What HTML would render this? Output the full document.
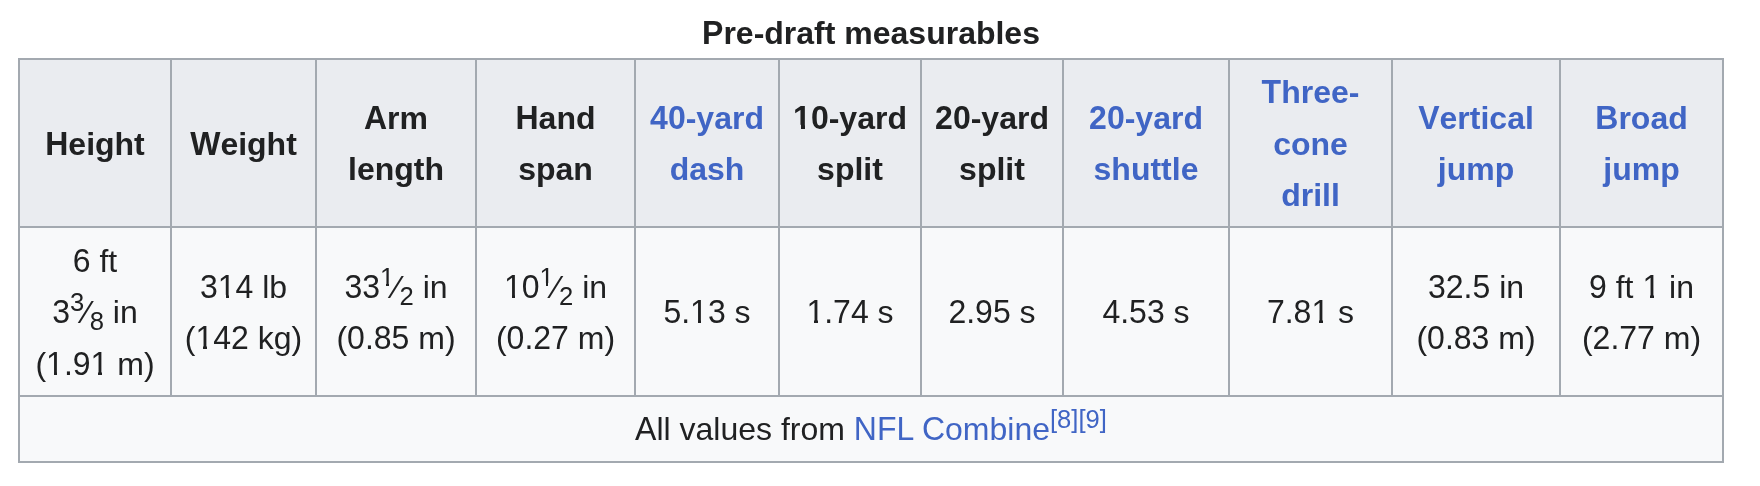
<!DOCTYPE html>
<html><head><meta charset="utf-8"><title>Pre-draft measurables</title>
<style>
html,body{margin:0;padding:0;background:#fff;}
body{font-family:"Liberation Sans",sans-serif;color:#202122;font-size:32px;line-height:51.2px;}
.wrap{position:absolute;left:18px;top:7px;will-change:transform;}
table{border-collapse:separate;border-spacing:0;table-layout:fixed;width:1706px;
  border-left:2px solid #a3a9b0;border-top:2px solid #a3a9b0;background:#f8f9fa;color:#202122;}
caption{font-weight:bold;text-align:center;padding:0;line-height:51px;position:relative;top:1px;}
th,td{box-sizing:border-box;border-right:2px solid #a3a9b0;border-bottom:2px solid #a3a9b0;
  padding:6.4px 12.8px;text-align:center;vertical-align:middle;}
th{background:#eaecf0;font-weight:bold;}
tr.h th{height:168px;padding-top:7.4px;padding-bottom:5.4px;}
tr.d td{height:169px;padding-top:7.6px;padding-bottom:5.2px;}
tr.f td{height:66px;}
a{color:#4065c5;text-decoration:none;}
.frac{white-space:nowrap;}
.frac .num,.frac .den{font-size:80%;line-height:0;}
.frac .num{vertical-align:super;}
.frac .den{vertical-align:sub;}
.o{position:relative;}
.o::before,.o::after{content:"";position:absolute;bottom:0.19em;height:0.125em;background:#f8f9fa;}
.o::before{left:0.035em;width:0.2125em;}
.o::after{left:0.35em;width:0.205em;}
th .o::before,th .o::after{background:#eaecf0;bottom:0.19em;height:0.15em;}
th .o::before{left:0.02em;width:0.213em;}
th .o::after{left:0.371em;width:0.18em;}
.c{display:inline-block;transform:scaleY(1.04);transform-origin:0 36.6px;}
sup.ref{font-size:80%;line-height:1;vertical-align:super;}
</style></head><body>
<div class="wrap">
<table>
<caption><span class="c">P</span>re-draft measurables</caption>
<colgroup>
<col style="width:152px"><col style="width:145px"><col style="width:160px"><col style="width:159px">
<col style="width:144px"><col style="width:142px"><col style="width:142px"><col style="width:166px">
<col style="width:163px"><col style="width:168px"><col style="width:163px">
</colgroup>
<tr class="h">
<th><span class="c">H</span>eight</th><th><span class="c">W</span>eight</th><th><span class="c">A</span>rm<br>length</th><th><span class="c">H</span>and<br>span</th>
<th><a><span class="c">40</span>-yard<br>dash</a></th><th><span class="c"><span class="o">1</span>0</span>-yard<br>split</th><th><span class="c">20</span>-yard<br>split</th>
<th><a><span class="c">20</span>-yard<br>shuttle</a></th><th><a><span class="c">T</span>hree-<br>cone<br>drill</a></th>
<th><a><span class="c">V</span>ertical<br>jump</a></th><th><a><span class="c">B</span>road<br>jump</a></th>
</tr>
<tr class="d">
<td><span class="c">6</span>&nbsp;ft<br><span class="frac"><span class="c">3</span><span class="num">3</span>&frasl;<span class="den">8</span></span>&nbsp;in<br>(<span class="c"><span class="o">1</span>.9<span class="o">1</span></span>&nbsp;m)</td>
<td><span class="c">3<span class="o">1</span>4</span>&nbsp;lb<br>(<span class="c"><span class="o">1</span>42</span>&nbsp;kg)</td>
<td><span class="frac"><span class="c">33</span><span class="num"><span class="o">1</span></span>&frasl;<span class="den">2</span></span>&nbsp;in<br>(<span class="c">0.85</span>&nbsp;m)</td>
<td><span class="frac"><span class="c"><span class="o">1</span>0</span><span class="num"><span class="o">1</span></span>&frasl;<span class="den">2</span></span>&nbsp;in<br>(<span class="c">0.27</span>&nbsp;m)</td>
<td><span class="c">5.<span class="o">1</span>3</span>&nbsp;s</td>
<td><span class="c"><span class="o">1</span>.74</span>&nbsp;s</td>
<td><span class="c">2.95</span>&nbsp;s</td>
<td><span class="c">4.53</span>&nbsp;s</td>
<td><span class="c">7.8<span class="o">1</span></span>&nbsp;s</td>
<td><span class="c">32.5</span>&nbsp;in<br>(<span class="c">0.83</span>&nbsp;m)</td>
<td><span class="c">9</span>&nbsp;ft <span class="c"><span class="o">1</span></span>&nbsp;in<br>(<span class="c">2.77</span>&nbsp;m)</td>
</tr>
<tr class="f">
<td colspan="11"><span class="c">A</span>ll values from <a><span class="c">NFL C</span>ombine</a><sup class="ref"><a>[8]</a></sup><sup class="ref"><a>[9]</a></sup></td>
</tr>
</table>
</div>
</body></html>
